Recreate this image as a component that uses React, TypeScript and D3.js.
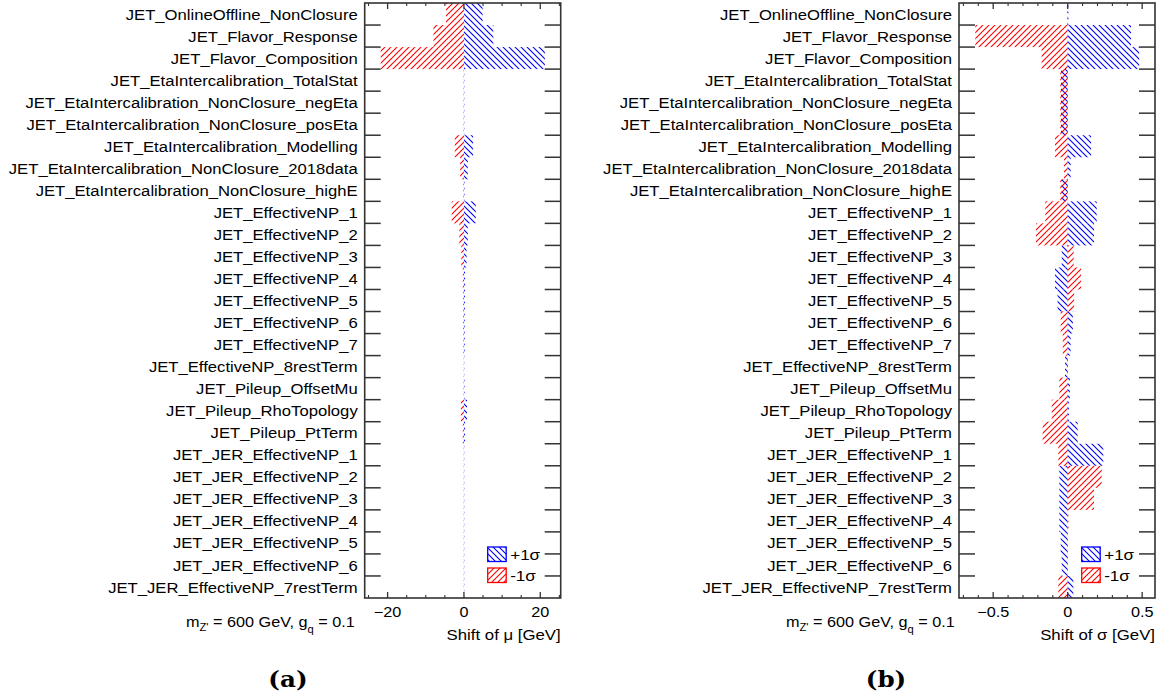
import React from "react";
import * as d3 from "d3";

const categories = [
  "JET_OnlineOffline_NonClosure",
  "JET_Flavor_Response",
  "JET_Flavor_Composition",
  "JET_EtaIntercalibration_TotalStat",
  "JET_EtaIntercalibration_NonClosure_negEta",
  "JET_EtaIntercalibration_NonClosure_posEta",
  "JET_EtaIntercalibration_Modelling",
  "JET_EtaIntercalibration_NonClosure_2018data",
  "JET_EtaIntercalibration_NonClosure_highE",
  "JET_EffectiveNP_1",
  "JET_EffectiveNP_2",
  "JET_EffectiveNP_3",
  "JET_EffectiveNP_4",
  "JET_EffectiveNP_5",
  "JET_EffectiveNP_6",
  "JET_EffectiveNP_7",
  "JET_EffectiveNP_8restTerm",
  "JET_Pileup_OffsetMu",
  "JET_Pileup_RhoTopology",
  "JET_Pileup_PtTerm",
  "JET_JER_EffectiveNP_1",
  "JET_JER_EffectiveNP_2",
  "JET_JER_EffectiveNP_3",
  "JET_JER_EffectiveNP_4",
  "JET_JER_EffectiveNP_5",
  "JET_JER_EffectiveNP_6",
  "JET_JER_EffectiveNP_7restTerm",
];

// Shift of mu [GeV]
const muUp = [4.9, 7.7, 21.2, 0.1, 0.1, 0.1, 2.4, 1.0, 0.15, 3.1, 1.0, 0.7, 0.3, 0.25, 0.2, 0.2, 0.05, 0.15, 0.8, 0.3, 0.05, 0.05, 0.05, 0.05, 0.05, 0.05, 0.05];
const muDown = [-4.7, -8.0, -21.8, -0.1, -0.1, -0.1, -2.4, -1.0, -0.15, -3.2, -1.2, -0.7, -0.3, -0.2, -0.2, -0.15, -0.05, -0.1, -0.8, -0.3, -0.05, -0.05, -0.05, -0.05, -0.05, -0.05, -0.05];

// Shift of sigma [GeV]
const sigmaUp = [0.005, 0.425, 0.48, -0.045, -0.045, -0.045, 0.157, 0.02, -0.04, 0.195, 0.177, -0.04, -0.085, -0.068, 0.035, 0.02, -0.018, 0.015, 0.008, 0.067, 0.239, -0.056, -0.056, -0.056, -0.047, -0.04, 0.038];
const sigmaDown = [-0.005, -0.62, -0.175, -0.05, -0.05, -0.05, -0.085, -0.025, -0.05, -0.15, -0.213, 0.04, 0.09, 0.043, -0.047, -0.033, -0.005, -0.056, -0.107, -0.168, -0.063, 0.228, 0.177, 0.005, 0.002, 0.002, -0.063];

const muMajorTicks = [-20, 0, 20];
const muMajorLabels = ["\u221220", "0", "20"];
const sigmaMajorTicks = [-0.5, 0, 0.5];
const sigmaMajorLabels = ["\u22120.5", "0", "0.5"];

const FONT = "Arial, Helvetica, 'Liberation Sans', sans-serif";
const FRAME = "#333";

type TProps = {
  x: number;
  y: number;
  sx?: number;
  size: number;
  anchor?: "start" | "middle" | "end";
  dy?: string;
  children: React.ReactNode;
};

function T({ x, y, sx = 1.1, size, anchor = "start", dy, children }: TProps) {
  return (
    <text
      transform={`translate(${x},${y}) scale(${sx},1)`}
      textAnchor={anchor}
      dy={dy}
      fontFamily={FONT}
      fontSize={size}
      fill="#000"
    >
      {children}
    </text>
  );
}

type PanelProps = {
  left: number;
  right: number;
  domain: [number, number];
  up: number[];
  down: number[];
  majors: number[];
  majorLabels: string[];
  minorStep: number;
  xTitle: string;
  caption: string;
  annotX: number;
  captionX: number;
  legendX: number;
};

function Panel(p: PanelProps) {
  const top = 3;
  const bottom = 598;
  const x = d3.scaleLinear().domain(p.domain).range([p.left, p.right]);
  const y = d3.scaleBand<string>().domain(categories).range([top, bottom]).padding(0);
  const bw = y.bandwidth();
  const minors = d3
    .range(Math.ceil(p.domain[0] / p.minorStep), Math.floor(p.domain[1] / p.minorStep) + 1)
    .map((k) => k * p.minorStep)
    .filter((v) => !p.majors.some((m) => Math.abs(m - v) < 1e-9));
  const bar = (v: number, i: number, fill: string, key: string) => {
    const x0 = x(0);
    const x1 = x(v);
    return (
      <rect
        key={key}
        x={Math.min(x0, x1)}
        y={y(categories[i])}
        width={Math.max(Math.abs(x1 - x0), 0.3)}
        height={bw}
        fill={fill}
      />
    );
  };
  const boundaries = categories.slice(1).map((c) => y(c) as number);
  return (
    <g>
      {p.up.map((v, i) => bar(v, i, "url(#hatchBlue)", `u${i}`))}
      {p.down.map((v, i) => bar(v, i, "url(#hatchRed)", `d${i}`))}
      {boundaries.map((b, i) => (
        <g key={`yt${i}`} stroke={FRAME} strokeWidth={1.5}>
          <line x1={p.left} x2={p.left + 16} y1={b} y2={b} />
          <line x1={p.right} x2={p.right - 16} y1={b} y2={b} />
        </g>
      ))}
      {p.majors.map((m, i) => (
        <g key={`xm${i}`} stroke={FRAME} strokeWidth={1.3}>
          <line x1={x(m)} x2={x(m)} y1={bottom} y2={bottom - 6} />
          <line x1={x(m)} x2={x(m)} y1={top} y2={top + 6} />
        </g>
      ))}
      {minors.map((m, i) => (
        <g key={`xn${i}`} stroke={FRAME} strokeWidth={1.1}>
          <line x1={x(m)} x2={x(m)} y1={bottom} y2={bottom - 3} />
          <line x1={x(m)} x2={x(m)} y1={top} y2={top + 3} />
        </g>
      ))}
      <rect x={p.left} y={top} width={p.right - p.left} height={bottom - top} fill="none" stroke={FRAME} strokeWidth={1.6} />
      {p.majors.map((m, i) => (
        <T key={`xl${i}`} x={x(m)} y={617} size={14.5} sx={1.12} anchor="middle">
          {p.majorLabels[i]}
        </T>
      ))}
      {categories.map((c, i) => (
        <T key={`cl${i}`} x={p.left - 7} y={(y(c) as number) + bw / 2} dy="0.36em" size={15.5} sx={1.075} anchor="end">
          {c}
        </T>
      ))}
      <T x={p.right} y={640} size={15} sx={1.12} anchor="end">
        {p.xTitle}
      </T>
      <T x={p.annotX} y={627} size={14.5} sx={1.12}>
        m<tspan fontSize={10} dy={4}>Z'</tspan>
        <tspan dy={-4}> = 600 GeV, g</tspan>
        <tspan fontSize={10} dy={6}>q</tspan>
        <tspan dy={-6}> = 0.1</tspan>
      </T>
      <g>
        <rect x={p.legendX} y={547} width={18.5} height={14.5} fill="url(#hatchBlue)" stroke="#0000ff" strokeWidth={1.3} />
        <T x={p.legendX + 22.5} y={559.5} size={15.5} sx={1.1}>+1σ</T>
        <rect x={p.legendX} y={568} width={18.5} height={14.5} fill="url(#hatchRed)" stroke="#ff0000" strokeWidth={1.3} />
        <T x={p.legendX + 22.5} y={580.5} size={15.5} sx={1.1}>-1σ</T>
      </g>
      <text
        transform={`translate(${p.captionX},687) scale(1.12,1)`}
        textAnchor="middle"
        fontFamily="'DejaVu Serif', 'Liberation Serif', serif"
        fontWeight="bold"
        fontSize={22}
        fill="#000"
      >
        {p.caption}
      </text>
    </g>
  );
}

export default function App() {
  return (
    <svg
      width={1163}
      height={700}
      viewBox="0 0 1163 700"
      style={{ position: "absolute", left: 0, top: 0, background: "#fff" }}
    >
      <defs>
        <pattern id="hatchBlue" patternUnits="userSpaceOnUse" width={6} height={6}>
          <path d="M0,0 L6,6 M-1,5 L1,7 M5,-1 L7,1" stroke="#0000ff" strokeWidth={1.1} fill="none" />
        </pattern>
        <pattern id="hatchRed" patternUnits="userSpaceOnUse" width={6} height={6}>
          <path d="M0,6 L6,0 M-1,1 L1,-1 M5,7 L7,5" stroke="#ff0000" strokeWidth={1.1} fill="none" />
        </pattern>
      </defs>
      <rect width={1163} height={700} fill="#fff" />
      <Panel
        left={364.7}
        right={560.7}
        domain={[-26.0, 25.35]}
        up={muUp}
        down={muDown}
        majors={muMajorTicks}
        majorLabels={muMajorLabels}
        minorStep={5}
        xTitle="Shift of μ [GeV]"
        caption="(a)"
        annotX={186}
        captionX={288}
        legendX={487.7}
      />
      <Panel
        left={959}
        right={1155}
        domain={[-0.7295, 0.586]}
        up={sigmaUp}
        down={sigmaDown}
        majors={sigmaMajorTicks}
        majorLabels={sigmaMajorLabels}
        minorStep={0.1}
        xTitle="Shift of σ [GeV]"
        caption="(b)"
        annotX={786}
        captionX={886}
        legendX={1081.7}
      />
    </svg>
  );
}
